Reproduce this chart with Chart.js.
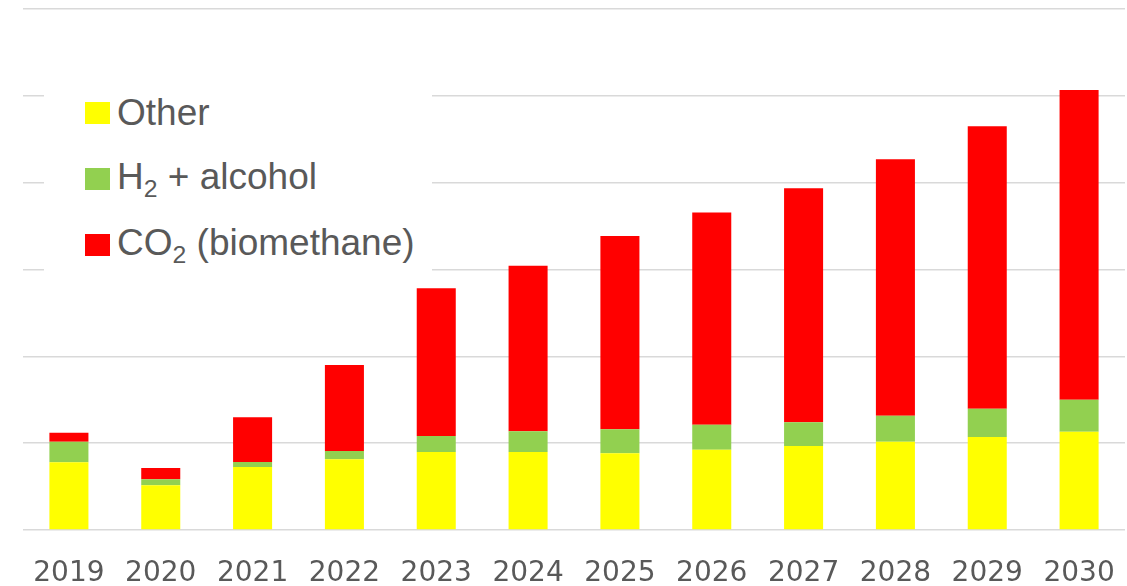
<!DOCTYPE html>
<html>
<head>
<meta charset="utf-8">
<title>Demand by source 2019-2030</title>
<script src="https://cdn.jsdelivr.net/npm/chart.js@4/dist/chart.umd.min.js"></script>
<style>
  html, body { margin: 0; padding: 0; background: #fff; overflow: hidden; }
  #wrap { position: relative; width: 1127px; height: 586px; }
  #legend {
    position: absolute; left: 44px; top: 80px; width: 388px; height: 195px;
    background: #fff; box-sizing: border-box; padding-left: 41px;
    font-family: 'Liberation Sans', Arial, sans-serif; font-size: 37px; color: #595959;
  }
  .lg-item { display: flex; align-items: center; height: 66px; line-height: 66px; white-space: nowrap; }
  .lg-box { width: 25px; height: 22px; margin-right: 7px; flex: none; }
  .lg-sub { font-size: 0.67em; position: relative; top: 8px; }
</style>
</head>
<body>
<div id="wrap">
  <canvas id="chart"></canvas>
  <div id="legend"></div>
</div>
<script>
'use strict';

// ── Data (arbitrary units) ────────────────────────────────────
const years = ['2019', '2020', '2021', '2022', '2023', '2024', '2025', '2026', '2027', '2028', '2029', '2030'];
const seriesLabels = ['Other', 'H₂ + alcohol', 'CO₂ (biomethane)'];
const seriesColors = ['#FFFF00', '#92D050', '#FF0000'];
const otherValues     = [7.8, 5.15, 7.26, 8.14, 8.98, 8.98, 8.83, 9.25, 9.67, 10.17, 10.71, 11.32];
const h2AlcoholValues = [2.37, 0.69, 0.58, 0.96, 1.84, 2.38, 2.76, 2.88, 2.73, 2.99, 3.26, 3.69];
const co2Values       = [1.04, 1.30, 5.15, 9.90, 17.01, 19.08, 22.27, 24.42, 26.95, 29.53, 32.52, 35.67];
const yMax  = 60;
const yStep = 10;

// ── HTML legend (subscript 2 rendered as real text) ───────────
function labelHtml(text) {
  return text.replace(/₂/g, '<span class="lg-sub">2</span>');
}

const htmlLegend = {
  id: 'htmlLegend',
  afterUpdate(chart) {
    const box = document.getElementById('legend');
    box.innerHTML = chart.data.datasets.map(ds =>
      `<div class="lg-item"><span class="lg-box" style="background:${ds.backgroundColor}"></span><span>${labelHtml(ds.label)}</span></div>`
    ).join('');
  },
};

// ── Chart ─────────────────────────────────────────────────────
const seriesValues = [otherValues, h2AlcoholValues, co2Values];

new Chart(document.getElementById('chart'), {
  type: 'bar',
  data: {
    labels: years,
    datasets: seriesLabels.map((label, i) => ({
      label,
      data: seriesValues[i],
      backgroundColor: seriesColors[i],
      borderWidth: 0,
      barPercentage: 0.425,
      categoryPercentage: 1,
    })),
  },
  options: {
    responsive: true,
    maintainAspectRatio: false,
    animation: false,
    layout: { padding: { left: 23, right: 2, top: 9, bottom: 0 } },
    plugins: {
      legend: { display: false },
      tooltip: { enabled: true },
    },
    scales: {
      x: {
        stacked: true,
        grid: { display: false, drawTicks: false },
        border: { display: false },
        ticks: {
          color: '#595959',
          padding: 27,
          font: { family: "'DejaVu Sans', Verdana, sans-serif", size: 28 },
          maxRotation: 0,
        },
        afterFit(scale) {
          scale.height = 56;
          scale.paddingLeft = 0;
          scale.paddingRight = 0;
        },
      },
      y: {
        stacked: true,
        min: 0,
        max: yMax,
        ticks: { display: false, stepSize: yStep },
        grid: { color: '#d9d9d9', lineWidth: 1.5, drawTicks: false },
        border: { display: false },
      },
    },
  },
  plugins: [htmlLegend],
});
</script>
</body>
</html>
